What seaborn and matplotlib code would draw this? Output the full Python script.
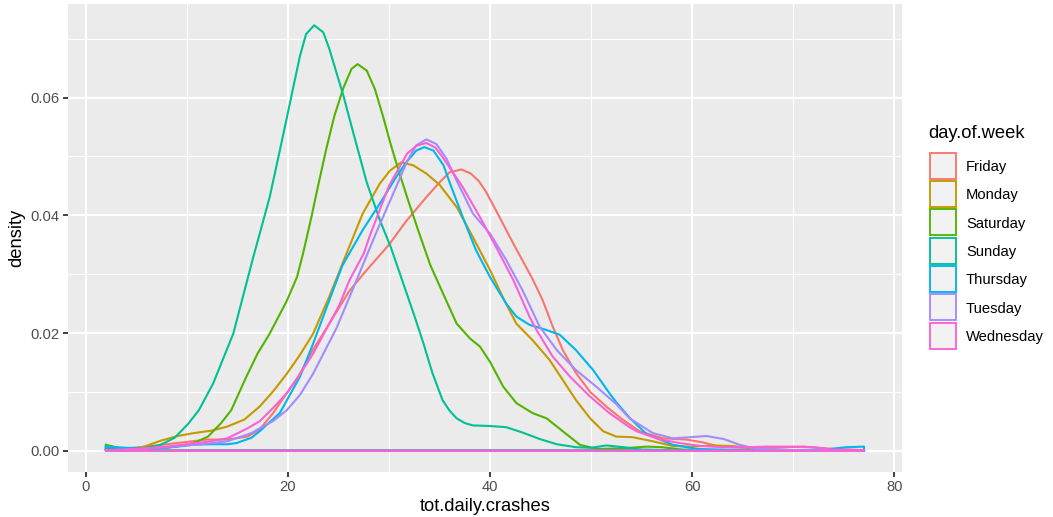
import matplotlib
matplotlib.use("Agg")
import matplotlib.pyplot as plt
import seaborn as sns
import pandas as pd
from matplotlib.patches import Rectangle
from matplotlib.ticker import FormatStrFormatter, FixedLocator

# ---------------- data ----------------
days = ["Friday", "Monday", "Saturday", "Sunday", "Thursday", "Tuesday", "Wednesday"]
day_colors = ["#F8766D", "#C49A00", "#53B400", "#00C094", "#00B6EB", "#A58AFF", "#FB61D7"]

friday_x = [2, 4, 6, 8, 10, 12, 14, 16, 17.2, 18.5, 19.9, 21, 22.5, 24.1, 26.1, 27.7, 30, 31.7, 33.7, 35.0,
            36.0, 37.15, 38.1, 38.9, 39.6, 40.6, 42.3, 44.2, 45.2, 46.2, 47.2, 48.5, 49.9, 51.5, 53.1, 54.8,
            57.1, 59.4, 61.1, 62.7, 65, 68, 71, 74, 77]
friday_y = [0.0002, 0.0004, 0.0007, 0.0011, 0.0015, 0.0019, 0.0019, 0.0024, 0.0036, 0.0063, 0.0098, 0.0125,
            0.0172, 0.0216, 0.0272, 0.0305, 0.0350, 0.0390, 0.0431, 0.0456, 0.0473, 0.0478, 0.0471, 0.0458,
            0.0440, 0.0408, 0.0352, 0.0292, 0.0256, 0.0211, 0.0171, 0.0132, 0.0100, 0.0075, 0.0053, 0.0033,
            0.0021, 0.0019, 0.0014, 0.0007, 0.0005, 0.0005, 0.0007, 0.0003, 0.0001]

monday_x = [2, 4, 5.8, 7.4, 9.1, 10.7, 12.4, 14, 15.7, 17.2, 18.5, 19.9, 21.2, 22.5, 24.1, 25.8, 27.4, 29.1,
            30.1, 31.2, 32.4, 33.7, 35, 36.7, 38.3, 40, 41.4, 42.6, 44.2, 45.9, 47.2, 48.5, 49.9, 51.2, 52.5,
            54.1, 56.1, 58.1, 60, 62, 64, 67, 70, 77]
monday_y = [0.0001, 0.0002, 0.0007, 0.0017, 0.0025, 0.0030, 0.0034, 0.0041, 0.0053, 0.0075, 0.0100, 0.0131,
            0.0163, 0.0199, 0.0262, 0.0335, 0.0403, 0.0454, 0.0476, 0.0490, 0.0485, 0.0471, 0.0452, 0.0414,
            0.0363, 0.0307, 0.0256, 0.0216, 0.0188, 0.0154, 0.0120, 0.0086, 0.0055, 0.0033, 0.0024,
            0.0023, 0.0016, 0.0008, 0.0007, 0.0009, 0.0008, 0.0002, 0.0001, 0.0000]

saturday_x = [2, 3.5, 5, 7, 9, 10.7, 12.1, 13.4, 14.4, 15.9, 17, 18.2, 19.9, 20.9, 21.5, 22.3, 23.0, 23.8,
              24.6, 25.5, 26.3, 26.9, 27.8, 28.6, 29.4, 30.2, 31.1, 32.0, 33, 34.1, 35.8, 36.7, 38, 39, 40,
              41.3, 42.6, 44.2, 45.6, 47.2, 48.9, 50.6, 53, 55.5, 57, 59, 62, 77]
saturday_y = [0.0010, 0.0004, 0.0003, 0.0004, 0.0007, 0.0013, 0.0024, 0.0047, 0.0069, 0.0126, 0.0165,
              0.0199, 0.0255, 0.0295, 0.0335, 0.0395, 0.0451, 0.0513, 0.0569, 0.0617, 0.0649, 0.0657,
              0.0646, 0.0615, 0.0569, 0.0519, 0.0468, 0.0420, 0.0369, 0.0315, 0.0250, 0.0216, 0.0191,
              0.0177, 0.0151, 0.0109, 0.0081, 0.0064, 0.0055, 0.0033, 0.0010, 0.0003, 0.0004, 0.0007,
              0.0006, 0.0002, 0.0001, 0.0000]

sunday_x = [2, 4, 5.8, 7.4, 8.8, 10.1, 11.2, 12.6, 14.6, 16.5, 18.2, 19.2, 19.8, 20.5, 21.2, 21.8, 22.6, 23.5,
            24.1, 24.8, 25.5, 26.1, 26.9, 27.8, 29.1, 30.2, 31.7, 32.5, 33.4, 34.3, 35.3, 36.0, 36.7, 37.5,
            38.3, 40, 41.6, 43.2, 44.9, 46.6, 48.5, 50, 51.5, 53.2, 55, 58, 77]
sunday_y = [0.0005, 0.0003, 0.0004, 0.0010, 0.0022, 0.0045, 0.0069, 0.0114, 0.0199, 0.0324, 0.0431, 0.0510,
            0.0558, 0.0615, 0.0671, 0.0708, 0.0723, 0.0711, 0.0683, 0.0643, 0.0603, 0.0564, 0.0513, 0.0456,
            0.0392, 0.0345, 0.0270, 0.0230, 0.0183, 0.0132, 0.0086, 0.0068, 0.0055, 0.0047, 0.0043,
            0.0042, 0.0040, 0.0031, 0.0020, 0.0011, 0.0006, 0.0005, 0.0009, 0.0006, 0.0002, 0.0001, 0.0000]

thursday_x = [2, 4, 6, 8, 10.6, 12.2, 14, 14.9, 16.4, 17.2, 19.2, 21.2, 22.5, 23.8, 25.4, 27.4, 29.1, 30.6,
              31.7, 32.7, 33.5, 34.4, 35.4, 36, 37.3, 38.6, 40, 41.6, 42.6, 43.9, 45.6, 46.9, 48.5, 50.2,
              51.8, 52.5, 53.8, 55.5, 58.1, 60.5, 65, 70, 73, 75.3, 77]
thursday_y = [0.0007, 0.0005, 0.0004, 0.0005, 0.0010, 0.0011, 0.0011, 0.0013, 0.0022, 0.0033, 0.0064,
              0.0126, 0.0182, 0.0242, 0.0315, 0.0375, 0.0420, 0.0462, 0.0490, 0.0510, 0.0516, 0.0510,
              0.0485, 0.0456, 0.0397, 0.0341, 0.0295, 0.0250, 0.0228, 0.0214, 0.0205, 0.0197, 0.0171,
              0.0137, 0.0098, 0.0082, 0.0056, 0.0028, 0.0010, 0.0003, 0.0001, 0.0001, 0.0002, 0.0006, 0.0007]

tuesday_x = [2, 4, 6, 8, 10, 12, 14, 16.4, 17.2, 18.5, 19.9, 21.2, 22.5, 24.8, 26.8, 28.7, 30.7, 31.8, 32.7,
             33.7, 34.7, 35.7, 36.7, 38.3, 40, 41.6, 43.2, 44.9, 46.6, 48.5, 50.5, 52.5, 53.8, 56.1, 58.1,
             59.8, 61.4, 63.1, 64.7, 66.4, 70, 77]
tuesday_y = [0.0001, 0.0002, 0.0004, 0.0006, 0.0009, 0.0012, 0.0016, 0.0030, 0.0038, 0.0050, 0.0069, 0.0095,
             0.0131, 0.0208, 0.0290, 0.0369, 0.0448, 0.0492, 0.0519, 0.0529, 0.0521, 0.0496, 0.0459,
             0.0403, 0.0369, 0.0324, 0.0273, 0.0211, 0.0171, 0.0137, 0.0109, 0.0079, 0.0055, 0.0030,
             0.0021, 0.0023, 0.0025, 0.0020, 0.0010, 0.0003, 0.0001, 0.0000]

wednesday_x = [2, 4, 6, 8, 10, 12, 14, 16, 17.2, 18.5, 19.9, 21.2, 22.5, 24.1, 25.1, 26.1, 27.5, 28.1, 30,
               31.8, 32.7, 33.7, 34.6, 35.3, 37.3, 39, 40.6, 42.3, 43.9, 44.6, 46.2, 47.9, 49.9, 51.8, 53.8,
               54.5, 56.8, 58.8, 60.9, 63, 65.4, 67.4, 70, 72, 73.9, 77]
wednesday_y = [0.0001, 0.0002, 0.0004, 0.0007, 0.0011, 0.0015, 0.0021, 0.0038, 0.0050, 0.0072, 0.0098,
               0.0130, 0.0165, 0.0216, 0.0248, 0.0290, 0.0335, 0.0365, 0.0450, 0.0505, 0.0518, 0.0523,
               0.0515, 0.0499, 0.0448, 0.0397, 0.0346, 0.0290, 0.0228, 0.0205, 0.0160, 0.0126, 0.0092,
               0.0064, 0.0040, 0.0033, 0.0019, 0.0013, 0.0008, 0.0006, 0.0006, 0.0007, 0.0007, 0.0006,
               0.0002, 0.0001]

series = {
    "Friday": (friday_x, friday_y),
    "Monday": (monday_x, monday_y),
    "Saturday": (saturday_x, saturday_y),
    "Sunday": (sunday_x, sunday_y),
    "Thursday": (thursday_x, thursday_y),
    "Tuesday": (tuesday_x, tuesday_y),
    "Wednesday": (wednesday_x, wednesday_y),
}

# long table; each density outline is closed along the baseline like geom_density
frames = []
for day in days:
    xs, ys = series[day]
    xc = list(xs) + [xs[-1], xs[0], xs[0]]
    yc = list(ys) + [0.0, 0.0, ys[0]]
    frames.append(pd.DataFrame({"tot.daily.crashes": xc, "density": yc, "day.of.week": day}))
df = pd.concat(frames, ignore_index=True)

# ---------------- style ----------------
plt.rcParams["font.family"] = ["Liberation Sans", "DejaVu Sans"]

W, H = 1053, 517
fig = plt.figure(figsize=(W / 100, H / 100), dpi=100)
fig.patch.set_facecolor("white")
ax = fig.add_axes([68 / W, (H - 472) / H, (902 - 68) / W, (472 - 4) / H])
ax.set_facecolor("#EBEBEB")

sns.lineplot(data=df, x="tot.daily.crashes", y="density", hue="day.of.week",
             hue_order=days, palette=day_colors, sort=False, estimator=None,
             linewidth=1.5, legend=False, ax=ax)

all_x = df["tot.daily.crashes"]
all_y = df["density"]
xr = all_x.max() - all_x.min()
yr = all_y.max() - all_y.min()
ax.set_xlim(all_x.min() - 0.05 * xr, all_x.max() + 0.05 * xr)
ax.set_ylim(all_y.min() - 0.05 * yr, all_y.max() + 0.05 * yr)

ax.xaxis.set_major_locator(FixedLocator([0, 20, 40, 60, 80]))
ax.xaxis.set_minor_locator(FixedLocator([10, 30, 50, 70]))
ax.yaxis.set_major_locator(FixedLocator([0, 0.02, 0.04, 0.06]))
ax.yaxis.set_minor_locator(FixedLocator([0.01, 0.03, 0.05, 0.07]))
ax.yaxis.set_major_formatter(FormatStrFormatter("%.2f"))

ax.grid(True, which="major", color="white", linewidth=1.55)
ax.grid(True, which="minor", color="white", linewidth=0.8)
ax.set_axisbelow(True)
for s in ax.spines.values():
    s.set_visible(False)

ax.tick_params(which="major", length=3.6, width=1.3, color="#333333",
               labelsize=10.6, labelcolor="#4D4D4D", pad=2.4)
ax.tick_params(which="minor", length=0)

ax.set_xlabel("tot.daily.crashes", fontsize=13.2, color="black", labelpad=2.5)
ax.set_ylabel("density", fontsize=13.2, color="black", labelpad=3.5)

# legend drawn as figure artists: title, outlined keys on light grey fill, labels
fig.text(928 / W, 1 - 138.5 / H, "day.of.week", fontsize=13.2, color="black",
         ha="left", va="baseline")
key_left, key_top0, key_size, key_pitch = 929.5, 152.8, 26.0, 28.3
for i, (day, c) in enumerate(zip(days, day_colors)):
    top = key_top0 + i * key_pitch
    fig.patches.append(Rectangle((key_left / W, 1 - (top + key_size) / H), key_size / W, key_size / H,
                                 transform=fig.transFigure, facecolor="#F2F2F2", edgecolor=c,
                                 linewidth=1.35))
    fig.text(966 / W, 1 - (top + key_size / 2 + 5.3) / H, day, fontsize=10.6, color="black",
             ha="left", va="baseline")

fig.savefig("out.png", dpi=100)
